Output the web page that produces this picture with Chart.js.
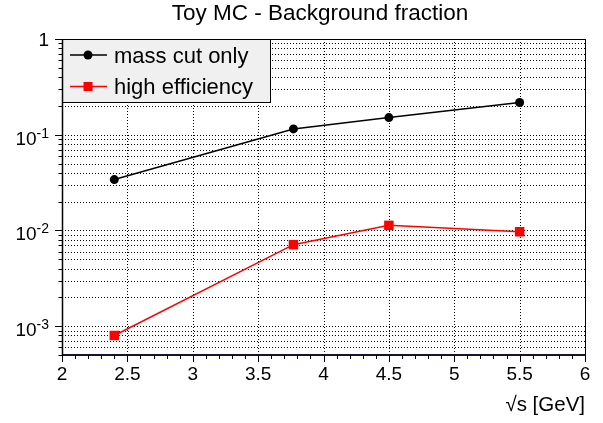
<!DOCTYPE html>
<html>
<head>
<meta charset="utf-8">
<script src="https://cdn.jsdelivr.net/npm/chart.js@4.4.0/dist/chart.umd.min.js"></script>
<style>
  html, body { margin: 0; padding: 0; background: #fff; }
  #wrap { width: 603px; height: 423px; }
</style>
</head>
<body>
<div id="wrap"><canvas id="bgChart" width="603" height="423"></canvas></div>
<script>
// data
var energies = [2.4, 3.77, 4.5, 5.5];
var massCutOnly = [0.034, 0.115, 0.151, 0.217];
var highEfficiency = [0.00080, 0.0071, 0.0113, 0.0097];

var xRange = [2, 6];
var yRange = [5e-4, 1];
var xTickLabels = ['2', '2.5', '3', '3.5', '4', '4.5', '5', '5.5', '6'];
var yDecades = [1e-3, 1e-2, 1e-1, 1];
var yExponents = ['-3', '-2', '-1', ''];

var FONT = '"Liberation Sans", Arial, Helvetica, sans-serif';

function toPoints(xs, ys) {
    var pts = [];
    for (var i = 0; i < xs.length; i++) pts.push({ x: xs[i], y: ys[i] });
    return pts;
}

// grid lines, frame, ticks and labels drawn with the chart's own scales
var rootStyle = {
    id: 'rootStyle',
    beforeDraw: function(chart) {
        var ctx = chart.ctx;
        ctx.save();
        ctx.fillStyle = '#fff';
        ctx.fillRect(0, 0, chart.width, chart.height);
        ctx.restore();
    },
    beforeDatasetsDraw: function(chart) {
        var ctx = chart.ctx, a = chart.chartArea;
        var xs = chart.scales.x, ys = chart.scales.y;
        ctx.save();
        ctx.strokeStyle = '#000';
        ctx.lineWidth = 1;
        ctx.setLineDash([1, 2]);
        // vertical grid at major x ticks
        for (var v = xRange[0] + 0.5; v < xRange[1]; v += 0.5) {
            var px = Math.round(xs.getPixelForValue(v)) + 0.5;
            ctx.beginPath(); ctx.moveTo(px, a.top); ctx.lineTo(px, a.bottom); ctx.stroke();
        }
        // horizontal grid at every log tick
        for (var d = 1e-4; d < yRange[1]; d *= 10) {
            for (var m = 1; m < 10; m++) {
                var val = d * m;
                if (val < yRange[0] || val > yRange[1]) continue;
                var py = Math.round(ys.getPixelForValue(val)) + 0.5;
                ctx.beginPath(); ctx.moveTo(a.left, py); ctx.lineTo(a.right, py); ctx.stroke();
            }
        }
        ctx.restore();
    },
    afterDatasetsDraw: function(chart) {
        var ctx = chart.ctx, a = chart.chartArea;
        var xs = chart.scales.x, ys = chart.scales.y;
        ctx.save();

        // legend box
        var lx = a.left, ly = a.top, lw = 208, lh = 63;
        ctx.fillStyle = '#f0f0f0';
        ctx.fillRect(lx, ly, lw, lh);
        ctx.strokeStyle = '#000';
        ctx.lineWidth = 1;
        ctx.strokeRect(lx + 0.5, ly + 0.5, lw, lh);
        var entries = [
            { label: 'mass cut only', color: '#000', style: 'circle' },
            { label: 'high efficiency', color: '#ff0000', style: 'rect' }
        ];
        ctx.font = '22px ' + FONT;
        ctx.textAlign = 'left';
        ctx.textBaseline = 'alphabetic';
        for (var e = 0; e < entries.length; e++) {
            var ry = ly + 16 + e * 31.5;
            ctx.strokeStyle = entries[e].color;
            ctx.lineWidth = 1.5;
            ctx.beginPath(); ctx.moveTo(lx + 8, ry); ctx.lineTo(lx + 45, ry); ctx.stroke();
            ctx.fillStyle = entries[e].color;
            if (entries[e].style === 'circle') {
                ctx.beginPath(); ctx.arc(lx + 26, ry, 4.5, 0, Math.PI * 2); ctx.fill();
            } else {
                ctx.fillRect(lx + 21.5, ry - 4.5, 9, 9);
            }
            ctx.fillStyle = '#000';
            ctx.fillText(entries[e].label, lx + 52, ry + 7.5);
        }

        // frame
        ctx.strokeStyle = '#000';
        ctx.lineWidth = 1;
        ctx.strokeRect(a.left + 0.5, a.top + 0.5, a.right - a.left, a.bottom - a.top);
        ctx.strokeStyle = '#14143a';
        ctx.lineWidth = 2;
        ctx.beginPath(); ctx.moveTo(a.left, a.bottom); ctx.lineTo(a.right + 1, a.bottom); ctx.stroke();
        ctx.strokeStyle = '#000';
        ctx.lineWidth = 1.5;
        ctx.beginPath(); ctx.moveTo(a.left + 0.5, a.top); ctx.lineTo(a.left + 0.5, a.bottom); ctx.stroke();

        // x ticks (outside, below)
        ctx.lineWidth = 1;
        ctx.strokeStyle = '#000';
        for (var k = 0; k <= 40; k++) {
            var xv = xRange[0] + k * 0.1;
            var tx = Math.round(xs.getPixelForValue(xv)) + 0.5;
            var len = (k % 5 === 0) ? 7 : 4;
            ctx.beginPath(); ctx.moveTo(tx, a.bottom); ctx.lineTo(tx, a.bottom + len); ctx.stroke();
        }
        // y ticks (outside, left)
        for (var d2 = 1e-4; d2 < yRange[1] * 1.01; d2 *= 10) {
            for (var m2 = 1; m2 < 10; m2++) {
                var yv = d2 * m2;
                if (yv < yRange[0] * 0.999 || yv > yRange[1] * 1.001) continue;
                var ty = Math.round(ys.getPixelForValue(yv)) + 0.5;
                var ylen = (m2 === 1) ? 7 : 3.5;
                ctx.beginPath(); ctx.moveTo(a.left, ty); ctx.lineTo(a.left - ylen, ty); ctx.stroke();
            }
        }

        // x tick labels
        ctx.fillStyle = '#000';
        ctx.font = '19px ' + FONT;
        ctx.textAlign = 'center';
        for (var t = 0; t < xTickLabels.length; t++) {
            var lv = xRange[0] + t * 0.5;
            ctx.fillText(xTickLabels[t], xs.getPixelForValue(lv), a.bottom + 25);
        }

        // y tick labels with superscript exponent
        for (var i = 0; i < yDecades.length; i++) {
            var yp = ys.getPixelForValue(yDecades[i]);
            var right = a.left - 13;
            ctx.textAlign = 'right';
            if (yExponents[i] === '') {
                ctx.font = '19px ' + FONT;
                ctx.fillText('1', right, yp + 7);
            } else {
                ctx.font = '14px ' + FONT;
                var ew = ctx.measureText(yExponents[i]).width;
                ctx.fillText(yExponents[i], right, yp + 3);
                ctx.font = '19px ' + FONT;
                ctx.fillText('10', right - ew, yp + 10);
            }
        }

        // titles
        ctx.font = '22.5px ' + FONT;
        ctx.textAlign = 'center';
        ctx.fillText('Toy MC - Background fraction', 320, 20);
        ctx.textAlign = 'right';
        ctx.font = '20.5px ' + FONT;
        ctx.fillText('\u221As [GeV]', a.right, 411);

        ctx.restore();
    }
};

var chart = new Chart(document.getElementById('bgChart').getContext('2d'), {
    type: 'line',
    data: {
        datasets: [{
            label: 'mass cut only',
            data: toPoints(energies, massCutOnly),
            borderColor: '#000',
            backgroundColor: '#000',
            borderWidth: 1.5,
            pointStyle: 'circle',
            pointRadius: 4.5,
            pointBorderWidth: 0,
            tension: 0
        }, {
            label: 'high efficiency',
            data: toPoints(energies, highEfficiency),
            borderColor: '#ff0000',
            backgroundColor: '#ff0000',
            borderWidth: 1.5,
            pointStyle: 'rect',
            pointRadius: 6.7,
            pointBorderWidth: 0,
            tension: 0
        }]
    },
    options: {
        responsive: false,
        animation: false,
        events: [],
        layout: { padding: { left: 62, top: 39, right: 18, bottom: 68 } },
        plugins: { legend: { display: false }, tooltip: { enabled: false } },
        scales: {
            x: { type: 'linear', min: xRange[0], max: xRange[1], display: false },
            y: { type: 'logarithmic', min: yRange[0], max: yRange[1], display: false }
        }
    },
    plugins: [rootStyle]
});
</script>
</body>
</html>
